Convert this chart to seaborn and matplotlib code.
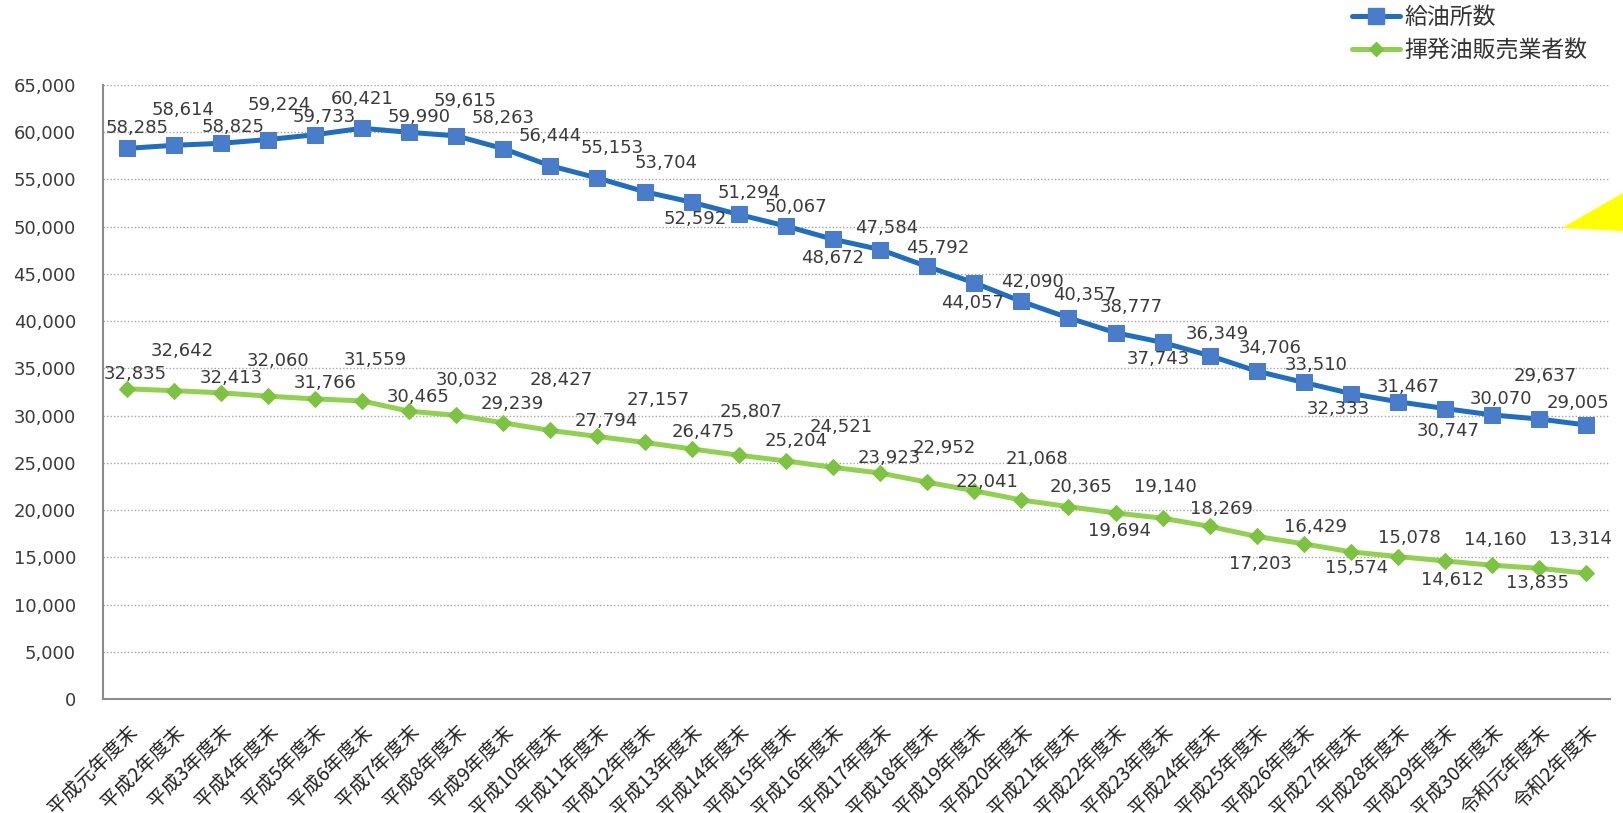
import matplotlib
matplotlib.use("Agg")
import matplotlib.pyplot as plt
from matplotlib.lines import Line2D
from matplotlib.patches import Polygon
from matplotlib.ticker import FuncFormatter, FixedLocator
import numpy as np
import pandas as pd
import seaborn as sns

# ---- data -------------------------------------------------------------
years = [
    "平成元年度末", "平成2年度末", "平成3年度末", "平成4年度末", "平成5年度末",
    "平成6年度末", "平成7年度末", "平成8年度末", "平成9年度末", "平成10年度末",
    "平成11年度末", "平成12年度末", "平成13年度末", "平成14年度末", "平成15年度末",
    "平成16年度末", "平成17年度末", "平成18年度末", "平成19年度末", "平成20年度末",
    "平成21年度末", "平成22年度末", "平成23年度末", "平成24年度末", "平成25年度末",
    "平成26年度末", "平成27年度末", "平成28年度末", "平成29年度末", "平成30年度末",
    "令和元年度末", "令和2年度末",
]
stations = [
    58285, 58614, 58825, 59224, 59733, 60421, 59990, 59615, 58263, 56444,
    55153, 53704, 52592, 51294, 50067, 48672, 47584, 45792, 44057, 42090,
    40357, 38777, 37743, 36349, 34706, 33510, 32333, 31467, 30747, 30070,
    29637, 29005,
]
dealers = [
    32835, 32642, 32413, 32060, 31766, 31559, 30465, 30032, 29239, 28427,
    27794, 27157, 26475, 25807, 25204, 24521, 23923, 22952, 22041, 21068,
    20365, 19694, 19140, 18269, 17203, 16429, 15574, 15078, 14612, 14160,
    13835, 13314,
]
series_names = ["給油所数", "揮発油販売業者数"]

# label placement (pixel offsets from each point: right, down)
stations_off = [
    (11, -20), (9, -35), (12, -16), (11, -35), (9, -18), (0, -29), (10, -15),
    (9, -35), (0, -31), (0, -30), (15, -30), (21, -29), (4, 17), (10, -21),
    (10, -19), (0, 19), (7, -22), (11, -18), (-2, 20), (11, -19), (16, -23),
    (16, -26), (-4, 17), (8, -22), (13, -23), (12, -17), (-13, 15), (10, -15),
    (3, 22), (9, -16), (6, -43), (-8, -22),
]
dealers_off = [
    (9, -15), (9, -40), (11, -15), (10, -35), (10, -16), (13, -41), (9, -14),
    (11, -35), (9, -19), (11, -50), (9, -15), (14, -42), (12, -17), (12, -43),
    (10, -20), (8, -40), (9, -15), (17, -34), (13, -9), (16, -41), (13, -20),
    (4, 18), (3, -31), (12, -17), (4, 28), (12, -17), (6, 16), (11, -19),
    (7, 19), (3, -25), (-2, 15), (-6, -34),
]

# ---- style ------------------------------------------------------------
sns.set_theme(style="white")
plt.rcParams["font.family"] = ["DejaVu Sans", "Noto Sans CJK JP"]
JP = ["Noto Sans CJK JP", "DejaVu Sans"]

BLUE_LINE, BLUE_MARK = "#1F6EBF", "#4A7DC9"
GREEN_LINE, GREEN_MARK = "#92D050", "#7DC341"
TEXT = "#3a3a3a"
AXIS = "#8c8c8c"

W, H, DPI = 1623, 813, 100
fig = plt.figure(figsize=(W / DPI, H / DPI), dpi=DPI)
ax = fig.add_axes([103 / W, 1 - 699 / H, (1610 - 103) / W, (699 - 85) / H])

df = pd.DataFrame({
    "pos": np.arange(len(years)),
    "stations": stations,
    "dealers": dealers,
})

sns.lineplot(data=df, x="pos", y="stations", ax=ax, color=BLUE_LINE,
             linewidth=3.6, marker="s", markersize=12,
             markerfacecolor=BLUE_MARK, markeredgecolor=BLUE_MARK, zorder=4)
sns.lineplot(data=df, x="pos", y="dealers", ax=ax, color=GREEN_LINE,
             linewidth=3.6, marker="D", markersize=8.5,
             markerfacecolor=GREEN_MARK, markeredgecolor=GREEN_MARK, zorder=4)

# value labels
for col, offs in (("stations", stations_off), ("dealers", dealers_off)):
    for i, (v, (dx, dy)) in enumerate(zip(df[col], offs)):
        ax.annotate(f"{v:,}", (i, v), xytext=(dx, -dy),
                    textcoords="offset pixels", ha="center", va="center",
                    fontsize=13, color=TEXT, zorder=5)

# axes
ax.set_xlim(-0.5, len(years) - 0.5)
ax.set_ylim(0, 65000)
ax.set_yticks(np.arange(0, 65001, 5000))
ax.yaxis.set_major_formatter(FuncFormatter(lambda v, p: f"{int(v):,}"))
ax.set_xticks(df["pos"])
ax.set_xticklabels(years, rotation=45, ha="right", rotation_mode="anchor",
                   family=JP, fontsize=14, color="#222222")
ax.xaxis.set_minor_locator(FixedLocator(np.arange(-0.5, len(years), 1.0)))
ax.tick_params(axis="x", which="major", length=0, pad=16)
ax.tick_params(axis="x", which="minor", length=5, width=1.2, color=AXIS,
               direction="out")
ax.tick_params(axis="y", length=4.5, width=1.2, color=AXIS, direction="out",
               pad=15, labelsize=13, labelcolor=TEXT)
ax.set_xlabel("")
ax.set_ylabel("")

ax.yaxis.grid(True, linestyle=(0, (1, 1.5)), color="#a6a6a6", linewidth=1)
ax.xaxis.grid(False)
for side in ("top", "right"):
    ax.spines[side].set_visible(False)
for side in ("left", "bottom"):
    ax.spines[side].set_color(AXIS)
    ax.spines[side].set_linewidth(1.5)

# legend in the upper right corner
handles = [
    Line2D([], [], color=BLUE_LINE, lw=3.6, marker="s", markersize=11,
           markerfacecolor=BLUE_MARK, markeredgecolor=BLUE_MARK),
    Line2D([], [], color=GREEN_LINE, lw=3.6, marker="D", markersize=7.5,
           markerfacecolor=GREEN_MARK, markeredgecolor=GREEN_MARK),
]
fig.legend(handles, series_names, loc="upper left",
           bbox_to_anchor=(1352 / W, 1 - 6 / H), frameon=False,
           prop={"family": JP, "size": 16.5}, handlelength=2.1,
           handletextpad=0.2, labelspacing=0.45, borderpad=0,
           borderaxespad=0, labelcolor="#333333")

# yellow callout wedge at the right edge
fig.patches.append(Polygon(
    [(1562 / W, 1 - 228 / H), (1.0, 1 - 193 / H), (1.0, 1 - 231 / H)],
    closed=True, transform=fig.transFigure, facecolor="#FFFF00",
    edgecolor="none", zorder=10))

fig.savefig("out.png", dpi=DPI, facecolor="white")
